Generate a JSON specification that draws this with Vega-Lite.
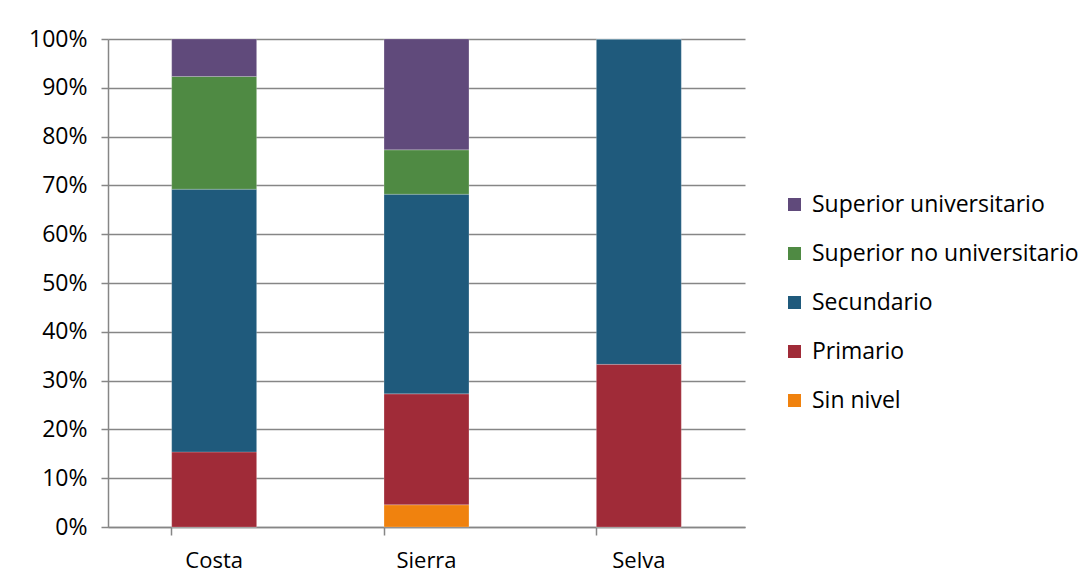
{
  "$schema": "https://vega.github.io/schema/vega-lite/v6.json",
  "width": 637,
  "height": 488,
  "autosize": {"type": "none"},
  "padding": {"left": 108, "top": 39, "right": 346, "bottom": 61},
  "background": "white",
  "data": {
    "values": [
      {"zona": "Costa", "nivel": "Sin nivel", "orden": 1, "pct": 0},
      {"zona": "Costa", "nivel": "Primario", "orden": 2, "pct": 0.1538},
      {"zona": "Costa", "nivel": "Secundario", "orden": 3, "pct": 0.5385},
      {"zona": "Costa", "nivel": "Superior no universitario", "orden": 4, "pct": 0.2308},
      {"zona": "Costa", "nivel": "Superior universitario", "orden": 5, "pct": 0.0769},
      {"zona": "Sierra", "nivel": "Sin nivel", "orden": 1, "pct": 0.0455},
      {"zona": "Sierra", "nivel": "Primario", "orden": 2, "pct": 0.2273},
      {"zona": "Sierra", "nivel": "Secundario", "orden": 3, "pct": 0.4091},
      {"zona": "Sierra", "nivel": "Superior no universitario", "orden": 4, "pct": 0.0909},
      {"zona": "Sierra", "nivel": "Superior universitario", "orden": 5, "pct": 0.2273},
      {"zona": "Selva", "nivel": "Sin nivel", "orden": 1, "pct": 0},
      {"zona": "Selva", "nivel": "Primario", "orden": 2, "pct": 0.3333},
      {"zona": "Selva", "nivel": "Secundario", "orden": 3, "pct": 0.6667},
      {"zona": "Selva", "nivel": "Superior no universitario", "orden": 4, "pct": 0},
      {"zona": "Selva", "nivel": "Superior universitario", "orden": 5, "pct": 0}
    ]
  },
  "mark": {"type": "bar", "stroke": "white", "strokeWidth": 0.5, "strokeOpacity": 0.4},
  "encoding": {
    "x": {
      "field": "zona",
      "type": "nominal",
      "sort": ["Costa", "Sierra", "Selva"],
      "scale": {"paddingInner": 0.6, "paddingOuter": 0.3},
      "axis": {
        "title": null,
        "labelAngle": 0,
        "labelFontSize": 22,
        "labelFont": "Open Sans",
        "labelColor": "#000000",
        "labelPadding": 15,
        "bandPosition": 0,
        "tickSize": 8,
        "tickColor": "#868686",
        "tickWidth": 1.5,
        "domainColor": "#868686",
        "domainWidth": 1.5,
        "grid": false
      }
    },
    "y": {
      "field": "pct",
      "type": "quantitative",
      "stack": "zero",
      "scale": {"domain": [0, 1], "nice": false},
      "axis": {
        "title": null,
        "format": ".0%",
        "values": [0, 0.1, 0.2, 0.3, 0.4, 0.5, 0.6, 0.7, 0.8, 0.9, 1],
        "labelFontSize": 23,
        "labelFont": "Open Sans",
        "labelColor": "#000000",
        "labelPadding": 14,
        "tickSize": 7,
        "tickColor": "#868686",
        "tickWidth": 1.5,
        "domainColor": "#868686",
        "domainWidth": 1.5,
        "grid": true,
        "gridColor": "#868686",
        "gridWidth": 1.5
      }
    },
    "color": {
      "field": "nivel",
      "type": "nominal",
      "scale": {
        "domain": ["Superior universitario", "Superior no universitario", "Secundario", "Primario", "Sin nivel"],
        "range": ["#604A7B", "#4F8A43", "#1F5A7C", "#A02B38", "#F0820E"]
      },
      "legend": {
        "title": null,
        "orient": "none",
        "legendX": 675,
        "legendY": 154,
        "symbolType": "square",
        "symbolSize": 170,
        "symbolStrokeWidth": 0,
        "labelFontSize": 23,
        "labelFont": "Open Sans",
        "labelColor": "#000000",
        "labelOffset": 6,
        "rowPadding": 25,
        "labelLimit": 400
      }
    },
    "order": {"field": "orden", "type": "quantitative", "sort": "ascending"}
  },
  "config": {"view": {"stroke": null}}
}
